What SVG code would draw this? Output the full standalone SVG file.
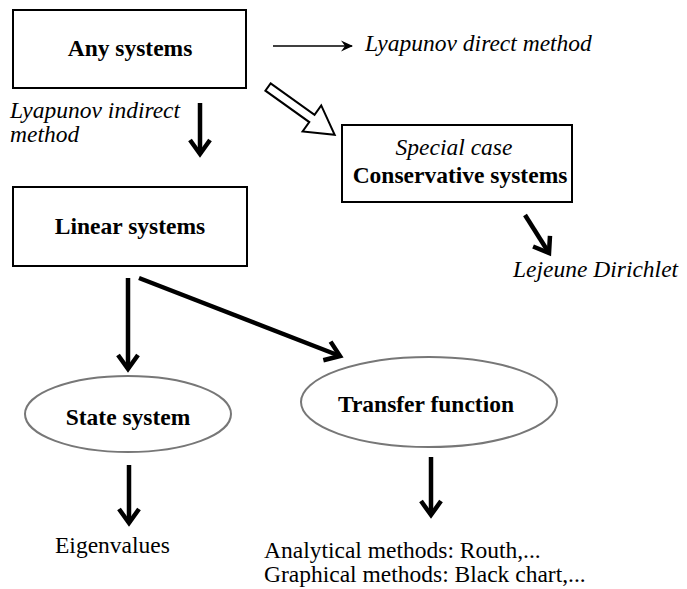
<svg xmlns="http://www.w3.org/2000/svg" width="687" height="589" viewBox="0 0 687 589">
<defs>
<marker id="thick" markerUnits="userSpaceOnUse" viewBox="-20 -14 24 28" refX="0" refY="0" markerWidth="24" markerHeight="28" orient="auto" overflow="visible">
<path d="M-14,-10 L0,0 L-14,10" fill="none" stroke="#000" stroke-width="4.5" stroke-linejoin="miter" stroke-linecap="butt"/>
</marker>
<marker id="thin" markerUnits="userSpaceOnUse" viewBox="-14 -8 16 16" refX="0" refY="0" markerWidth="16" markerHeight="16" orient="auto" overflow="visible">
<path d="M1,0 L-11,-5.5 L-7,0 L-11,5.5 Z" fill="#000"/>
</marker>
<style>
.box{fill:#fff;stroke:#000;stroke-width:2}
.ell{fill:#fff;stroke:#777;stroke-width:2}
.t{font-family:"Liberation Serif","Times New Roman",serif;font-size:23.5px;fill:#000}
.b{font-weight:bold}
.i{font-style:italic}
.m{text-anchor:middle}
.thk{stroke:#000;stroke-width:4.5;fill:none;marker-end:url(#thick)}
.thn{stroke:#000;stroke-width:1.6;fill:none;marker-end:url(#thin)}
</style>
</defs>

<g id="connectors">
<line class="thn" x1="273" y1="46" x2="352" y2="46"/>
<line class="thk" x1="200" y1="103" x2="200" y2="154"/>
<polygon transform="translate(268,87) rotate(35.6)" points="0,-4.5 54,-4.5 54,-16 82,0 54,16 54,4.5 0,4.5" fill="#fff" stroke="#000" stroke-width="2" stroke-linejoin="miter"/>
<line class="thk" x1="525" y1="215" x2="549" y2="253"/>
<line class="thk" x1="128" y1="278" x2="128" y2="369"/>
<line class="thk" x1="139" y1="278" x2="340" y2="356"/>
<line class="thk" x1="129" y1="465" x2="129" y2="523"/>
<line class="thk" x1="431" y1="457" x2="431" y2="515"/>
</g>

<g id="any-systems">
<rect class="box" x="13" y="10" width="233" height="78"/>
<text class="t b m" x="130" y="56">Any systems</text>
</g>

<g id="lyapunov-direct">
<text class="t i" x="365" y="51">Lyapunov direct method</text>
</g>

<g id="lyapunov-indirect">
<text class="t i" x="10" y="118">Lyapunov indirect</text>
<text class="t i" x="10" y="142">method</text>
</g>

<g id="conservative-systems">
<rect class="box" x="342" y="125" width="230" height="77"/>
<text class="t i m" x="454" y="155">Special case</text>
<text class="t b m" x="460" y="183">Conservative systems</text>
</g>

<g id="lejeune-dirichlet">
<text class="t i" x="513" y="277">Lejeune Dirichlet</text>
</g>

<g id="linear-systems">
<rect class="box" x="13" y="187" width="234" height="79"/>
<text class="t b m" x="130" y="234">Linear systems</text>
</g>

<g id="state-system">
<ellipse class="ell" cx="128" cy="414" rx="103" ry="38"/>
<text class="t b m" x="128" y="425">State system</text>
</g>

<g id="transfer-function">
<ellipse class="ell" cx="429" cy="402" rx="128" ry="45"/>
<text class="t b m" x="426" y="412">Transfer function</text>
</g>

<g id="eigenvalues">
<text class="t" x="55" y="553">Eigenvalues</text>
</g>

<g id="methods">
<text class="t" x="264" y="558">Analytical methods: Routh,...</text>
<text class="t" x="264" y="582">Graphical methods: Black chart,...</text>
</g>
</svg>
